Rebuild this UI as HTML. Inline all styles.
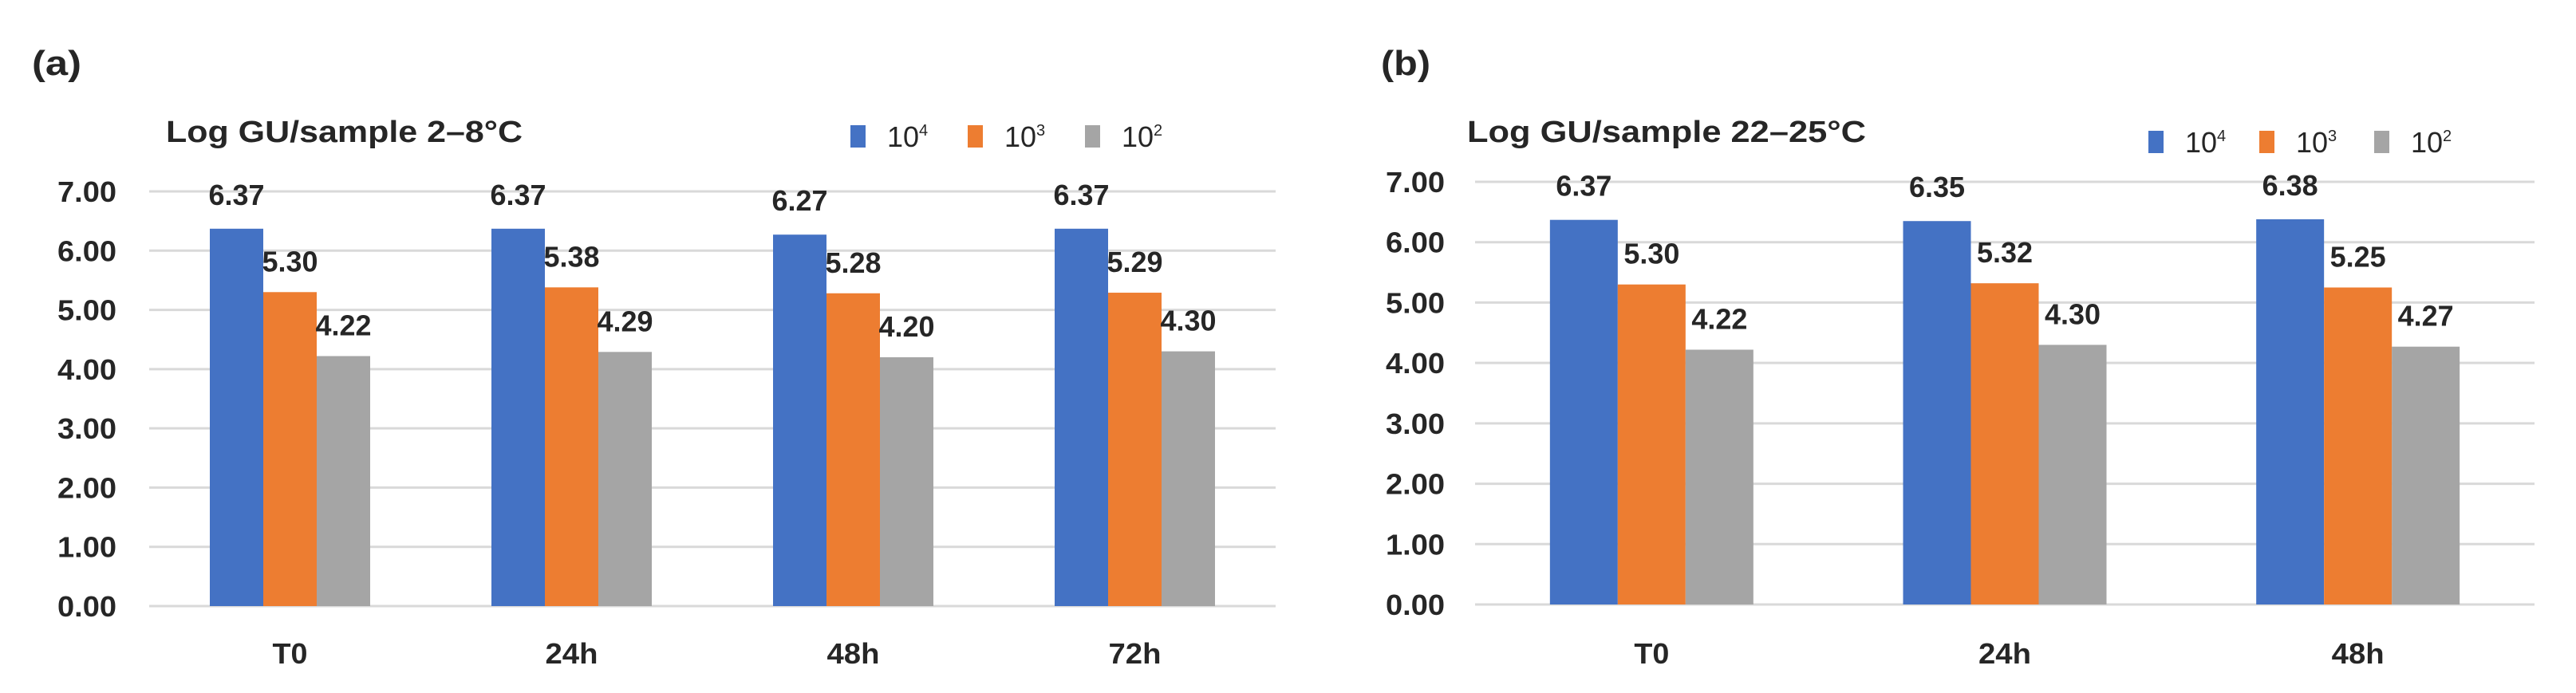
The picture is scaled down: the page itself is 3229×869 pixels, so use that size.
<!DOCTYPE html>
<html><head><meta charset="utf-8"><style>
html,body{margin:0;padding:0;background:#fff;}
svg{display:block;}
text{font-family:"Liberation Sans",sans-serif;fill:#262626;}
</style></head><body>
<svg id="fig" width="3229" height="869" viewBox="0 0 3229 869" xmlns="http://www.w3.org/2000/svg"></svg>
<script>
const seriesNames = ["10^4","10^3","10^2"];
const seriesColors = ["#4472C4","#ED7D31","#A5A5A5"];
const yTicks = [0,1,2,3,4,5,6,7];
const catsA = ["T0","24h","48h","72h"];
const a1e4 = [6.37,6.37,6.27,6.37];
const a1e3 = [5.30,5.38,5.28,5.29];
const a1e2 = [4.22,4.29,4.20,4.30];
const catsB = ["T0","24h","48h"];
const b1e4 = [6.37,6.35,6.38];
const b1e3 = [5.30,5.32,5.25];
const b1e2 = [4.22,4.30,4.27];

const NS="http://www.w3.org/2000/svg";
const svg=document.getElementById('fig');
function mk(tag,attrs,parent,txt){const e=document.createElementNS(NS,tag);for(const k in attrs)e.setAttribute(k,attrs[k]);if(txt!==undefined)e.textContent=txt;(parent||svg).appendChild(e);return e;}

function chart(cfg){
  const g=mk('g',{});
  
  
  const y=v=>cfg.y0-(v/7)*(cfg.y0-cfg.y7);
  const bandW=(cfg.x1-cfg.x0)/cfg.cats.length;
  const x=i=>cfg.x0+bandW*(i+0.5);
  const pl=mk('text',{x:cfg.panelX,y:cfg.panelY,'font-size':44,'font-weight':'bold',textLength:62,lengthAdjust:'spacingAndGlyphs'},g,cfg.panel);
  
  
  const t=mk('text',{x:cfg.titleX,y:178,'font-size':38,'font-weight':'bold',textLength:cfg.titleW,lengthAdjust:'spacingAndGlyphs'},g,cfg.title);
  
  
  yTicks.forEach(v=>{
    const l=mk('line',{x1:cfg.x0,x2:cfg.x1,y1:y(v),y2:y(v),stroke:'#d9d9d9','stroke-width':3},g);
    
    
    const tl=mk('text',{x:cfg.yLabX,y:y(v)+13,'font-size':36,'font-weight':'bold','text-anchor':'end',textLength:74,lengthAdjust:'spacingAndGlyphs'},g,v.toFixed(2));
    
    
  });
  const bw=cfg.bw;
  cfg.series.forEach((vals,s)=>{
    vals.forEach((v,i)=>{
      const bx=x(i)+(s-1.5)*bw;
      const r=mk('rect',{x:bx,y:y(v),width:bw,height:y(0)-y(v),fill:seriesColors[s]},g);
      
      
      const vl=mk('text',{x:bx+bw/2,y:y(v)-(s===0?30:26),'font-size':36,'font-weight':'bold','text-anchor':'middle',textLength:70,lengthAdjust:'spacingAndGlyphs'},g,v.toFixed(2));
      
      
    });
  });
  cfg.cats.forEach((c,i)=>{
    const cl=mk('text',{x:x(i),y:832,'font-size':36,'font-weight':'bold','text-anchor':'middle',textLength:c.length*22,lengthAdjust:'spacingAndGlyphs'},g,c);
    
    
  });
  seriesNames.forEach((n,s)=>{
    const lg=mk('g',{},g);
    
    
    mk('rect',{x:cfg.legX[s],y:cfg.legY-14,width:19,height:28,fill:seriesColors[s]},lg);
    const lt=mk('text',{x:cfg.legX[s]+46,y:cfg.legY+13,'font-size':36},lg,'10');
    mk('tspan',{dy:-14,'font-size':20},lt,n.split('^')[1]);
  });
}
chart({name:'chart-a',panel:'(a)',panelX:40,panelY:94,title:'Log GU/sample 2–8°C',titleX:208,titleW:447,
  x0:187,x1:1599,y0:760,y7:240,yLabX:146,bw:67,cats:catsA,series:[a1e4,a1e3,a1e2],legX:[1066,1213,1360],legY:171});
chart({name:'chart-b',panel:'(b)',panelX:1731,panelY:94,title:'Log GU/sample 22–25°C',titleX:1839,titleW:500,
  x0:1849,x1:3177,y0:758,y7:228,yLabX:1811,bw:85,cats:catsB,series:[b1e4,b1e3,b1e2],legX:[2693,2832,2976],legY:178});
</script>
</body></html>
